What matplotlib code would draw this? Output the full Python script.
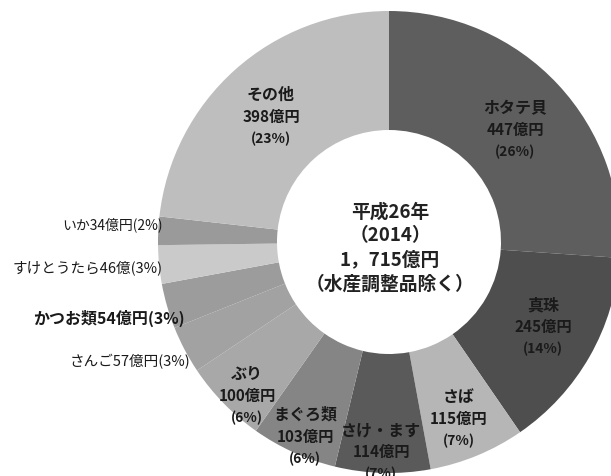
import numpy as np
import matplotlib
matplotlib.use("Agg")
import matplotlib.pyplot as plt

plt.rcParams['font.family'] = ['Noto Sans CJK JP', 'DejaVu Sans']

# 品目別輸出額（億円）と構成比
items = ['ホタテ貝', '真珠', 'さば', 'さけ・ます', 'まぐろ類', 'ぶり',
         'さんご', 'かつお類', 'すけとうたら', 'いか', 'その他']
values = [447, 245, 115, 114, 103, 100, 57, 54, 46, 34, 398]
amount_labels = ['447億円', '245億円', '115億円', '114億円', '103億円', '100億円',
                 '57億円', '54億円', '46億', '34億円', '398億円']
shares = ['26%', '14%', '7%', '7%', '6%', '6%', '3%', '3%', '3%', '2%', '23%']
center_lines = ['平成26年', '（2014）', '1，715億円', '（水産調整品除く）']

colors = ['#5e5e5e', '#4e4e4e', '#b6b6b6', '#5a5a5a', '#858585', '#a8a8a8',
          '#a2a2a2', '#9c9c9c', '#cacaca', '#9a9a9a', '#bebebe']

W, H = 611, 477
fig = plt.figure(figsize=(W / 100, H / 100), dpi=100)
ax = fig.add_axes([0, 0, 1, 1])

cx, cy, R, r_in = 389, 243, 231, 112

# y軸を反転しているので時計回りは counterclock=True 側になる
wedges, _ = ax.pie(values, colors=colors, startangle=-90, counterclock=True,
                   center=(cx, cy), radius=R, frame=True,
                   wedgeprops=dict(width=R - r_in, linewidth=0))
ax.set_xlim(0, W)
ax.set_ylim(H, 0)
ax.set_aspect('equal')
ax.axis('off')

# 内側のラベル（3行）
inner_pos = {0: (515, 108), 1: (543, 305), 2: (459, 397), 3: (381, 430),
             4: (305, 415), 5: (247, 374), 10: (271, 95)}
for i, (x, y) in inner_pos.items():
    ax.text(x, y, items[i], ha='center', va='center', fontsize=11.5, fontweight='bold', color='#1a1a1a')
    ax.text(x, y + 22, amount_labels[i], ha='center', va='center', fontsize=11,
            fontweight='bold', color='#1a1a1a')
    ax.text(x, y + 44, f'({shares[i]})', ha='center', va='center', fontsize=10,
            fontweight='bold', color='#1a1a1a')

# 外側（左）のラベル
outer_pos = {9: (163, 225, 10, 'normal'), 8: (163, 268, 10.5, 'normal'),
             7: (185, 318, 11.5, 'bold'), 6: (190, 362, 10.5, 'normal')}
for i, (x, y, fs, fw) in outer_pos.items():
    ax.text(x, y, f'{items[i]}{amount_labels[i]}({shares[i]})', ha='right', va='center',
            fontsize=fs, fontweight=fw, color='#1a1a1a')

# 中央の文字
for k, line in enumerate(center_lines):
    ax.text(cx + 1, 212 + k * 24, line, ha='center', va='center', fontsize=13.5,
            fontweight='bold', color='#222222')

fig.savefig('out.png', dpi=100)
